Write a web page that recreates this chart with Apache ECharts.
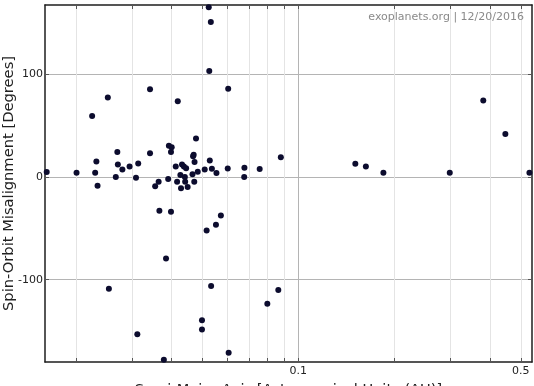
<!DOCTYPE html>
<html>
<head>
<meta charset="utf-8">
<title>Spin-Orbit Misalignment</title>
<script src="https://cdn.jsdelivr.net/npm/echarts@6/dist/echarts.min.js"></script>
<style>
  html, body { margin: 0; padding: 0; background: #fff; }
  #chart { width: 534px; height: 386px; }
</style>
</head>
<body>
<div id="chart"></div>
<script>
// semi-major axis (AU) and projected spin-orbit angle (deg)
var semiMajorAxis = [
  0.0162, 0.0201, 0.0225, 0.0230, 0.0232, 0.0234, 0.0252, 0.0267, 0.0270, 0.0271,
  0.0280, 0.0295, 0.0309, 0.0314, 0.0342, 0.0342, 0.0355, 0.0364, 0.0390, 0.0392,
  0.0400, 0.0398, 0.0418, 0.0412, 0.0416, 0.0428, 0.0431, 0.0426, 0.0437, 0.0444,
  0.0441, 0.0440, 0.0449, 0.0465, 0.0467, 0.0469, 0.0472, 0.0471, 0.0477, 0.0483,
  0.0508, 0.0523, 0.0525, 0.0527, 0.0531, 0.0535, 0.0553, 0.0600, 0.0602, 0.0677,
  0.0676, 0.0756, 0.0881, 0.151, 0.163, 0.185, 0.299, 0.381, 0.447, 0.532,
  0.0366, 0.0398, 0.0571, 0.0551, 0.0515, 0.0384, 0.0254, 0.0532, 0.0498, 0.0498,
  0.0312, 0.0378, 0.0604, 0.0799, 0.0865
];
var misalignment = [
  4.6, 3.9, 59.0, 3.9, 14.9, -8.7, 77.2, -0.2, 24.0, 11.9,
  7.1, 10.0, -1.0, 12.9, 85.0, 23.0, -9.2, -4.9, -2.2, 30.3,
  28.8, 24.1, 73.5, 10.0, -4.7, -11.2, 11.9, 1.7, 10.0, 8.3,
  -4.9, -0.3, -9.9, 2.6, 19.9, 21.4, 14.4, -4.9, 37.2, 5.0,
  7.1, 164.8, 102.9, 15.8, 150.5, 7.8, 3.6, 8.0, 85.7, 8.7,
  -0.2, 7.5, 19.1, 12.6, 10.0, 3.9, 3.9, 74.1, 41.7, 3.9,
  -33.0, -34.0, -37.6, -46.6, -52.1, -79.3, -108.7, -106.1, -139.5, -148.5,
  -153.1, -177.7, -170.9, -123.3, -110.0
];

var xGridTicks = [0.02, 0.03, 0.04, 0.05, 0.06, 0.07, 0.08, 0.09, 0.1, 0.2, 0.3, 0.4, 0.5];
var xTickLabels = [0.1, 0.5];
var yTicks = [-100, 0, 100];

var xRange = [0.016, 0.542];
var yRange = [-180, 167];

var font = 'DejaVu Sans';
var frame = { color: '#1e1e1e', width: 1.5 };

// darker line for the decade, light ones for the rest
var xLineColors = xGridTicks.map(function (v) { return v === 0.1 ? '#b4b4b4' : '#e4e4e4'; });

var points = semiMajorAxis.map(function (a, i) { return [a, misalignment[i]]; });

var chart = echarts.init(document.getElementById('chart'), null, { renderer: 'canvas' });

chart.setOption({
  animation: false,
  backgroundColor: '#fff',
  textStyle: { fontFamily: font },
  title: {
    text: 'exoplanets.org | 12/20/2016',
    right: 10,
    top: 12,
    padding: 0,
    textStyle: { fontFamily: font, fontSize: 11, fontWeight: 'normal', color: '#8a8a8a' }
  },
  grid: { left: 45, right: 2, top: 5, bottom: 24, outerBoundsMode: 'none' },
  xAxis: [{
    type: 'log',
    logBase: 10,
    min: xRange[0],
    max: xRange[1],
    position: 'bottom',
    name: 'Semi-Major Axis [Astronomical Units (AU)]',
    nameLocation: 'middle',
    nameGap: 21,
    nameMoveOverlap: false,
    nameTextStyle: { fontFamily: font, fontSize: 14.6, color: '#222' },
    axisLine: { show: true, onZero: false, lineStyle: frame },
    axisTick: { show: true, inside: true, length: 4, customValues: xGridTicks, lineStyle: { color: '#555' } },
    axisLabel: {
      customValues: xTickLabels, margin: 4, color: '#222', fontSize: 11,
      formatter: function (v) { return String(+v.toFixed(2)); }
    },
    splitLine: { show: true, lineStyle: { color: xLineColors, width: 1 } },
    minorTick: { show: false },
    minorSplitLine: { show: false }
  }, {
    type: 'log',
    logBase: 10,
    min: xRange[0],
    max: xRange[1],
    position: 'top',
    axisLine: { show: true, onZero: false, lineStyle: frame },
    axisTick: { show: true, inside: true, length: 4, customValues: xGridTicks, lineStyle: { color: '#555' } },
    axisLabel: { show: false },
    splitLine: { show: false }
  }],
  yAxis: [{
    type: 'value',
    min: yRange[0],
    max: yRange[1],
    position: 'left',
    name: 'Spin-Orbit Misalignment [Degrees]',
    nameLocation: 'middle',
    nameGap: 28,
    nameMoveOverlap: false,
    nameTextStyle: { fontFamily: font, fontSize: 14.7, color: '#222' },
    axisLine: { show: true, onZero: false, lineStyle: frame },
    axisTick: { show: true, inside: true, length: 4, customValues: yTicks, lineStyle: { color: '#555' } },
    axisLabel: { customValues: yTicks, margin: 2, color: '#222', fontSize: 11 },
    splitLine: { show: true, lineStyle: { color: '#b4b4b4', width: 1 } }
  }, {
    type: 'value',
    min: yRange[0],
    max: yRange[1],
    position: 'right',
    axisLine: { show: true, onZero: false, lineStyle: frame },
    axisTick: { show: true, inside: true, length: 4, customValues: yTicks, lineStyle: { color: '#555' } },
    axisLabel: { show: false },
    splitLine: { show: false }
  }],
  series: [{
    type: 'scatter',
    xAxisIndex: 0,
    yAxisIndex: 0,
    data: points,
    symbol: 'circle',
    symbolSize: 6,
    clip: false,
    itemStyle: { color: '#0c0c2e', opacity: 1 },
    silent: true,
    z: 5
  }]
});
</script>
</body>
</html>
